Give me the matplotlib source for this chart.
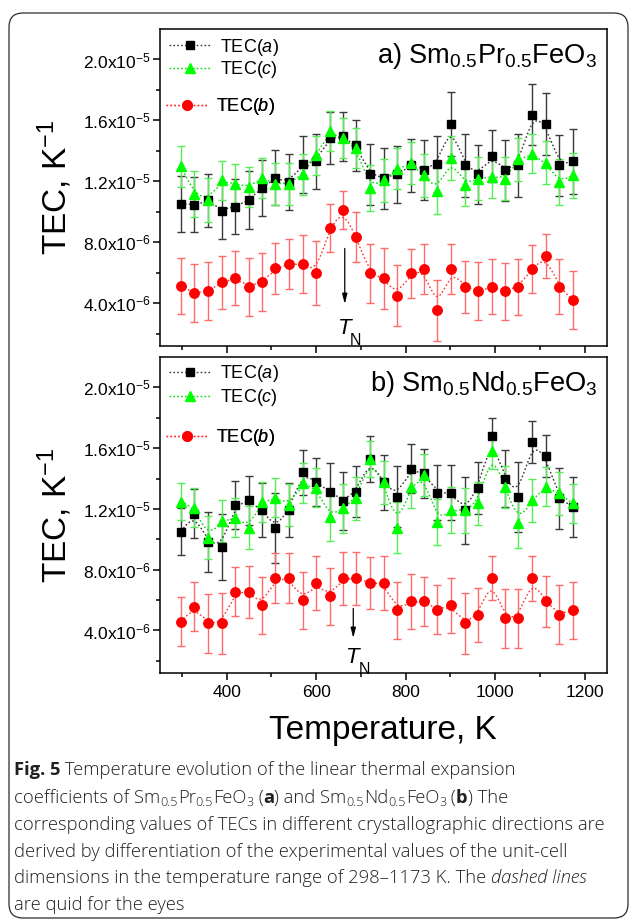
import numpy as np
import matplotlib
matplotlib.use("Agg")
import matplotlib.pyplot as plt
from matplotlib.lines import Line2D
from matplotlib.patches import FancyBboxPatch
from matplotlib import transforms

plt.rcParams['font.family'] = ['Liberation Sans', 'DejaVu Sans']
plt.rcParams['mathtext.fontset'] = 'custom'
plt.rcParams['mathtext.rm'] = 'Liberation Sans'
plt.rcParams['mathtext.it'] = 'Liberation Sans:italic'
plt.rcParams['mathtext.bf'] = 'Liberation Sans:bold'

# ---------------- data (TEC values in units of 1e-6 K^-1) ----------------
temperature = [298, 328, 358, 389, 419, 449, 479, 509, 539, 570,
               600, 630, 660, 690, 720, 751, 781, 811, 841, 871,
               901, 932, 962, 992, 1022, 1052, 1082, 1113, 1143, 1173]

# Sm0.5Pr0.5FeO3
pr_tec_a = [10.53, 10.46, 10.75, 10.09, 10.35, 10.75, 11.58, 12.24, 11.95, 13.11,
            13.33, 14.87, 14.96, 14.36, 12.46, 12.21, 12.46, 13.05, 12.76, 13.11,
            15.79, 13.05, 12.46, 13.66, 12.72, 13.05, 16.38, 15.77, 13.05, 13.31]
pr_err_a = [1.85, 1.8, 1.75, 1.85, 1.8, 1.9, 1.85, 1.8, 1.85, 1.85,
            1.8, 1.7, 1.6, 1.7, 2.0, 2.0, 1.85, 1.75, 1.95, 1.85,
            2.1, 2.05, 1.95, 1.7, 2.0, 2.05, 2.0, 2.05, 2.0, 2.15]
pr_tec_c = [12.98, 11.18, 10.79, 12.06, 11.84, 11.62, 12.24, 11.84, 11.84, 12.46,
            13.71, 15.29, 14.85, 14.21, 11.58, 12.06, 12.83, 13.20, 12.39, 11.36,
            13.53, 11.78, 12.17, 12.32, 12.17, 13.44, 13.82, 13.22, 11.95, 12.39]
pr_err_c = [1.35, 1.5, 1.45, 1.3, 1.3, 1.3, 1.3, 1.4, 1.4, 1.35,
            1.3, 1.3, 1.3, 1.3, 1.5, 1.4, 1.35, 1.4, 1.4, 1.5,
            1.45, 1.4, 1.4, 1.4, 1.4, 1.4, 1.3, 1.4, 1.5, 1.45]
pr_tec_b = [5.13, 4.65, 4.78, 5.37, 5.66, 5.09, 5.37, 6.29, 6.58, 6.58,
            5.99, 8.95, 10.13, 8.33, 5.96, 5.66, 4.50, 5.96, 6.25, 3.55,
            6.25, 5.09, 4.78, 5.09, 4.78, 5.09, 6.25, 7.13, 5.09, 4.21]
pr_err_b = [1.85, 1.9, 1.9, 1.75, 1.75, 1.9, 1.9, 1.7, 1.65, 1.9,
            2.1, 1.6, 1.25, 1.65, 1.95, 2.0, 2.0, 1.6, 1.65, 2.0,
            1.65, 1.7, 1.9, 1.8, 1.85, 1.85, 1.6, 1.45, 1.8, 1.9]

# Sm0.5Nd0.5FeO3
nd_tec_a = [10.51, 11.69, 9.82, 9.49, 12.26, 12.57, 11.93, 10.73, 11.93, 14.40,
            13.78, 13.14, 12.53, 13.14, 15.27, 13.74, 12.81, 14.66, 14.35, 13.08,
            13.08, 11.91, 13.36, 16.77, 14.00, 12.79, 16.42, 15.49, 12.70, 12.13]
nd_err_a = [1.55, 1.6, 2.0, 2.2, 1.6, 1.6, 1.8, 2.3, 1.8, 1.5,
            1.6, 1.9, 1.9, 1.7, 1.5, 1.8, 2.0, 1.6, 1.6, 1.8,
            1.8, 2.2, 1.7, 1.2, 1.9, 2.3, 1.4, 1.4, 2.0, 2.0]
nd_tec_c = [12.48, 12.09, 10.11, 11.21, 11.43, 10.77, 12.46, 12.75, 12.26, 13.69,
            13.41, 11.47, 12.04, 12.70, 15.27, 13.74, 10.77, 13.47, 14.22, 11.14,
            11.93, 11.91, 12.37, 15.82, 13.45, 11.10, 12.57, 13.47, 13.03, 12.37]
nd_err_c = [1.2, 1.3, 1.4, 1.4, 1.3, 1.4, 1.3, 1.3, 1.4, 1.3,
            1.3, 1.6, 1.6, 1.4, 1.2, 1.4, 1.7, 1.4, 1.4, 1.5,
            1.5, 1.5, 1.4, 1.2, 1.4, 1.7, 1.4, 1.3, 1.4, 1.3]
nd_tec_b = [4.57, 5.56, 4.46, 4.46, 6.55, 6.55, 5.65, 7.43, 7.43, 5.98,
            7.12, 6.24, 7.43, 7.43, 7.12, 7.12, 5.32, 5.91, 5.91, 5.36,
            5.65, 4.46, 5.01, 7.43, 4.79, 4.79, 7.43, 5.91, 5.05, 5.32]
nd_err_b = [1.6, 1.6, 1.95, 2.0, 1.6, 1.7, 1.9, 1.65, 1.65, 1.9,
            1.8, 1.85, 1.75, 1.75, 1.7, 1.75, 1.9, 1.8, 1.6, 1.6,
            1.8, 2.0, 1.8, 1.45, 1.95, 1.95, 1.5, 1.65, 1.95, 1.9]

ytick_values = [4.0e-6, 8.0e-6, 1.2e-5, 1.6e-5, 2.0e-5]
ytick_labels = ['4.0x10$^{-6}$', '8.0x10$^{-6}$', '1.2x10$^{-5}$',
                '1.6x10$^{-5}$', '2.0x10$^{-5}$']
xtick_values = [400, 600, 800, 1000, 1200]

panels = [
    dict(title='a) Sm$_{0.5}$Pr$_{0.5}$FeO$_3$',
         a=(pr_tec_a, pr_err_a), c=(pr_tec_c, pr_err_c), b=(pr_tec_b, pr_err_b),
         tn=664, tn_arrow=(7.6e-6, 3.95e-6), tn_text=2.35e-6),
    dict(title='b) Sm$_{0.5}$Nd$_{0.5}$FeO$_3$',
         a=(nd_tec_a, nd_err_a), c=(nd_tec_c, nd_err_c), b=(nd_tec_b, nd_err_b),
         tn=683, tn_arrow=(5.45e-6, 3.5e-6), tn_text=2.2e-6),
]

SCALE = 1e-6


def bspline(x, y, n=24):
    """Uniform cubic B-spline using the data points as control points."""
    P = np.column_stack([x, y]).astype(float)
    P = np.vstack([P[0], P[0], P, P[-1], P[-1]])
    M = np.array([[-1, 3, -3, 1], [3, -6, 3, 0], [-3, 0, 3, 0], [1, 4, 1, 0]]) / 6.0
    t = np.linspace(0, 1, n, endpoint=False)
    Tm = np.column_stack([t ** 3, t ** 2, t, np.ones_like(t)])
    segs = [Tm @ M @ P[i:i + 4] for i in range(len(P) - 3)]
    segs.append(P[-1][None, :])
    out = np.vstack(segs)
    return out[:, 0], out[:, 1]


styles = {
    'a': dict(marker='s', ms=6.0, color='#000000', ecolor='#3a3a3a', lcolor='#333333', label='TEC($\\mathit{a}$)'),
    'c': dict(marker='^', ms=7.5, color='#00ff00', ecolor='#55ee55', lcolor='#00dd00', label='TEC($\\mathit{c}$)'),
    'b': dict(marker='o', ms=6.8, color='#ff0000', ecolor='#ff6a6a', lcolor='#ff3333', label='TEC($\\mathit{b}$)'),
}

W, H = 629, 921
fig = plt.figure(figsize=(W / 100, H / 100), dpi=100)


def fx(px):
    return px / W


def fy(py):
    return 1 - py / H


ax_left, ax_right = 159.5, 607
axes_boxes = [(29, 346), (357, 673)]
legend_rows = [(47.3, 70.0, 106.7), (374.0, 397.7, 438.0)]

temps = np.array(temperature, dtype=float)
for idx, (panel, (top, bot)) in enumerate(zip(panels, axes_boxes)):
    ax = fig.add_axes([fx(ax_left), fy(bot), fx(ax_right - ax_left), (bot - top) / H])
    handles = {}
    for key in ['a', 'c', 'b']:
        vals, errs = panel[key]
        st = styles[key]
        v = np.array(vals) * SCALE
        e = np.array(errs) * SCALE
        ax.errorbar(temps, v, yerr=e, fmt='none', ecolor=st['ecolor'],
                    elinewidth=1.0, capsize=3.2, capthick=1.0, zorder=2)
        sx, sy = bspline(temps, v)
        ax.plot(sx, sy, linestyle=(0, (1.2, 1.6)), lw=1.0, color=st['lcolor'], zorder=2.5)
        ax.plot(temps, v, linestyle='none', marker=st['marker'], ms=st['ms'],
                color=st['color'], mec=st['color'], zorder=3)
        handles[key] = Line2D([], [], linestyle=(0, (1.2, 1.6)), lw=1.0, color=st['lcolor'],
                              marker=st['marker'], ms=st['ms'], mfc=st['color'], mec=st['color'])

    ax.set_xlim(250, 1250)
    ax.set_ylim(1.2e-6, 2.2e-5)
    ax.set_yticks(ytick_values)
    ax.set_yticklabels(ytick_labels)
    ax.set_yticks([2e-6, 6e-6, 1.0e-5, 1.4e-5, 1.8e-5], minor=True)
    ax.set_xticks(xtick_values)
    ax.set_xticks([300, 500, 700, 900, 1100], minor=True)
    ax.tick_params(axis='both', which='major', direction='out', length=5, width=1.1,
                   labelsize=12.5, top=False, right=False)
    ax.tick_params(axis='both', which='minor', direction='out', length=3, width=1.1,
                   top=False, right=False)
    ax.tick_params(axis='y', pad=1.5)
    if idx == 0:
        ax.tick_params(axis='x', labelbottom=False)
    else:
        ax.set_xticklabels([str(t) for t in xtick_values])
        ax.set_xlabel('Temperature, K', fontsize=24, labelpad=11)
    for sp in ax.spines.values():
        sp.set_linewidth(1.1)

    ax.set_ylabel('TEC, K$^{-1}$', fontsize=24, labelpad=6)
    ax.yaxis.set_label_coords(-0.191, 0.5)

    ax.text(0.978, 1 - 34 / (bot - top), panel['title'], transform=ax.transAxes,
            ha='right', va='baseline', fontsize=19.6)

    # legend entries
    rows = legend_rows[idx]
    for key, ry, xstart in zip(['a', 'c', 'b'], rows, [169.0, 169.0, 165.5]):
        leg = ax.legend([handles[key]], [styles[key]['label']], loc='center left',
                        bbox_to_anchor=((xstart - ax_left) / (ax_right - ax_left),
                                        (bot - ry) / (bot - top)),
                        frameon=False, fontsize=13, handlelength=2.35, handletextpad=0.45,
                        borderpad=0, borderaxespad=0, numpoints=1)
        ax.add_artist(leg)

    # Neel temperature marker
    y0, y1 = panel['tn_arrow']
    ax.annotate('', xy=(panel['tn'], y1), xytext=(panel['tn'], y0),
                arrowprops=dict(arrowstyle='-|>,head_length=0.6,head_width=0.15',
                                lw=0.9, color='black', shrinkA=0, shrinkB=0))
    ax.text(panel['tn'], panel['tn_text'], 'T', fontsize=16, fontstyle='italic',
            ha='center', va='center')
    off = transforms.offset_copy(ax.transData, fig=fig, x=11, y=-12, units='dots')
    ax.text(panel['tn'], panel['tn_text'], 'N', fontsize=11.5, ha='center', va='center',
            transform=off)

# outer rounded frame
frame = FancyBboxPatch((0.09, 0.03), 6.19, 9.05,
                       boxstyle='round,pad=0,rounding_size=0.14',
                       transform=fig.dpi_scale_trans, fill=False,
                       edgecolor='#2b2b2b', linewidth=0.9)
fig.patches.append(frame)

# caption
renderer = fig.canvas.get_renderer()
CAP_FONT = ['Open Sans', 'DejaVu Sans']
CAP_SIZE = 13.2
CAP_COLOR = '#231f20'


def seg_width(s, **kw):
    t1 = fig.text(0, 0, '|' + s + '|', **kw)
    t2 = fig.text(0, 0, '||', **kw)
    w = t1.get_window_extent(renderer).width - t2.get_window_extent(renderer).width
    t1.remove()
    t2.remove()
    return w


def draw_line(x_px, base_px, segments):
    x = x_px
    for s, style in segments:
        kw = dict(family=CAP_FONT, color=CAP_COLOR, fontsize=CAP_SIZE, fontweight='light')
        dy = 0
        if style == 'b':
            kw['fontweight'] = 'bold'
        elif style == 'i':
            kw['fontstyle'] = 'italic'
        elif style == 'sub':
            kw['fontsize'] = CAP_SIZE * 0.68
            dy = 4
        w = seg_width(s, **kw)
        fig.text(fx(x), fy(base_px + dy), s, va='baseline', ha='left', **kw)
        x += w


caption = [
    [('Fig. 5', 'b'), (' Temperature evolution of the linear thermal expansion', 'n')],
    [('coefficients of Sm', 'n'), ('0.5', 'sub'), ('Pr', 'n'), ('0.5', 'sub'), ('FeO', 'n'),
     ('3', 'sub'), (' (', 'n'), ('a', 'b'), (') and Sm', 'n'), ('0.5', 'sub'), ('Nd', 'n'),
     ('0.5', 'sub'), ('FeO', 'n'), ('3', 'sub'), (' (', 'n'), ('b', 'b'), (') The', 'n')],
    [('corresponding values of TECs in different crystallographic directions are', 'n')],
    [('derived by differentiation of the experimental values of the unit-cell', 'n')],
    [('dimensions in the temperature range of 298\u20131173 K. The ', 'n'), ('dashed lines', 'i')],
    [('are quid for the eyes', 'n')],
]
baselines = [775, 802.5, 829.5, 856.5, 883, 910]
for segs, bl in zip(caption, baselines):
    draw_line(14, bl, segs)

fig.savefig('out.png', dpi=100)
